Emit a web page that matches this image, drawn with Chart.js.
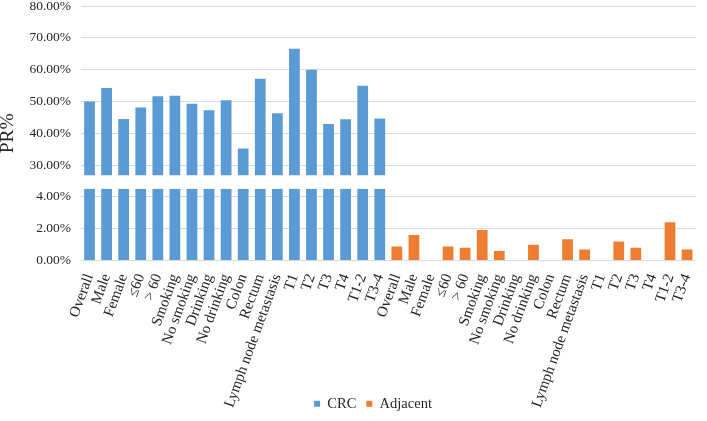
<!DOCTYPE html>
<html>
<head>
<meta charset="utf-8">
<script src="https://cdn.jsdelivr.net/npm/chart.js@4/dist/chart.umd.min.js"></script>
<style>
  html, body { margin: 0; padding: 0; background: #fff; }
  #wrap { width: 707px; height: 421px; }
</style>
</head>
<body>
<div id="wrap"><canvas id="prChart"></canvas></div>
<script>
// --- data ---
const groups = ['Overall', 'Male', 'Female', '≤60', '> 60', 'Smoking', 'No smoking', 'Drinking',
  'No drinking', 'Colon', 'Rectum', 'Lymph node metastasis', 'T1', 'T2', 'T3', 'T4', 'T1-2', 'T3-4'];
const crcValues = [50.0, 54.2, 44.5, 48.1, 51.6, 51.8, 49.3, 47.2, 50.4, 35.2, 57.1, 46.3,
  66.6, 60.0, 42.9, 44.4, 54.9, 44.6];
const adjacentValues = [0.88, 1.6, 0, 0.88, 0.8, 1.92, 0.59, 0, 0.99, 0, 1.33, 0.69,
  0, 1.2, 0.8, 0, 2.4, 0.69];
const yTicks = [0, 2, 4, 30, 40, 50, 60, 70, 80];

// axis break (value gap drawn blank)
const breakLow = 4.5;
const breakHigh = 26.8;

const serif = '"Liberation Serif", "Times New Roman", serif';

// Piecewise axis: 0-4.5 on a fine scale, 26.8-80 on a coarse scale
function toUnit(v) {
  if (v <= breakLow) return v / 2;
  if (v >= breakHigh) return 3 + (v - 30) / 10;
  const a = breakLow / 2, b = 3 + (breakHigh - 30) / 10;
  return a + (v - breakLow) / (breakHigh - breakLow) * (b - a);
}
function fromUnit(u) {
  const a = breakLow / 2, b = 3 + (breakHigh - 30) / 10;
  if (u <= a) return u * 2;
  if (u >= b) return 30 + (u - 3) * 10;
  return breakLow + (u - a) / (b - a) * (breakHigh - breakLow);
}
const unitMax = toUnit(80);

class BrokenScale extends Chart.LinearScale {
  buildTicks() {
    return yTicks.map(v => ({ value: v }));
  }
  getPixelForValue(value) {
    return this.getPixelForDecimal(toUnit(value) / unitMax);
  }
  getValueForPixel(pixel) {
    return fromUnit(this.getDecimalForPixel(pixel) * unitMax);
  }
}
BrokenScale.id = 'broken';
BrokenScale.defaults = Chart.LinearScale.defaults;
Chart.register(BrokenScale);

// blank band across the break
const axisBreak = {
  id: 'axisBreak',
  afterLayout(chart) {
    // let the long rotated labels run under the legend, like the original
    chart.scales.x.bottom = chart.height;
    // legend sits a little right of centre in the original
    chart.legend.left += 20;
    chart.legend.right += 20;
  },
  afterDatasetsDraw(chart) {
    const y = chart.scales.y, area = chart.chartArea, ctx = chart.ctx;
    const top = y.getPixelForValue(breakHigh);
    const bottom = y.getPixelForValue(breakLow);
    ctx.save();
    ctx.fillStyle = '#ffffff';
    ctx.fillRect(area.left, top, area.right - area.left, bottom - top);
    ctx.restore();
  }
};

const labels = groups.concat(groups);
const empty = groups.map(() => null);

const ctx = document.getElementById('prChart').getContext('2d');
new Chart(ctx, {
  type: 'bar',
  data: {
    labels: labels,
    datasets: [{
      label: 'CRC',
      data: crcValues.concat(empty),
      backgroundColor: '#5B9BD5'
    }, {
      label: 'Adjacent',
      data: empty.concat(adjacentValues),
      backgroundColor: '#ED7D31'
    }]
  },
  options: {
    responsive: true,
    maintainAspectRatio: false,
    animation: false,
    devicePixelRatio: 1,
    layout: { padding: { top: 0, right: 1, bottom: 0, left: 0 } },
    datasets: {
      bar: { grouped: false, barPercentage: 0.63, categoryPercentage: 1 }
    },
    scales: {
      x: {
        grid: { display: false },
        border: { display: false },
        ticks: {
          autoSkip: false,
          minRotation: 70,
          maxRotation: 70,
          padding: 3,
          color: '#262626',
          font: { family: serif, size: 15 }
        },
        afterFit: (scale) => { scale.height = 126; }
      },
      y: {
        type: 'broken',
        min: 0,
        max: 80,
        grid: { color: '#d9d9d9', lineWidth: 1, drawTicks: false },
        border: { display: false },
        ticks: {
          padding: 10,
          color: '#262626',
          font: { family: serif, size: 13.5 },
          callback: (v) => v.toFixed(2) + '%'
        },
        title: {
          display: true,
          text: 'PR%',
          color: '#262626',
          padding: { top: -4, bottom: 0 },
          font: { family: serif, size: 19.5 }
        },
        afterFit: (scale) => {
          scale.width = 81;
          scale.paddingTop = 6;
          scale.paddingBottom = 0;
        }
      }
    },
    plugins: {
      legend: {
        position: 'bottom',
        labels: {
          boxWidth: 6,
          boxHeight: 6,
          padding: 10,
          color: '#262626',
          font: { family: serif, size: 14.5 }
        }
      },
      tooltip: { enabled: false }
    }
  },
  plugins: [axisBreak]
});
</script>
</body>
</html>
